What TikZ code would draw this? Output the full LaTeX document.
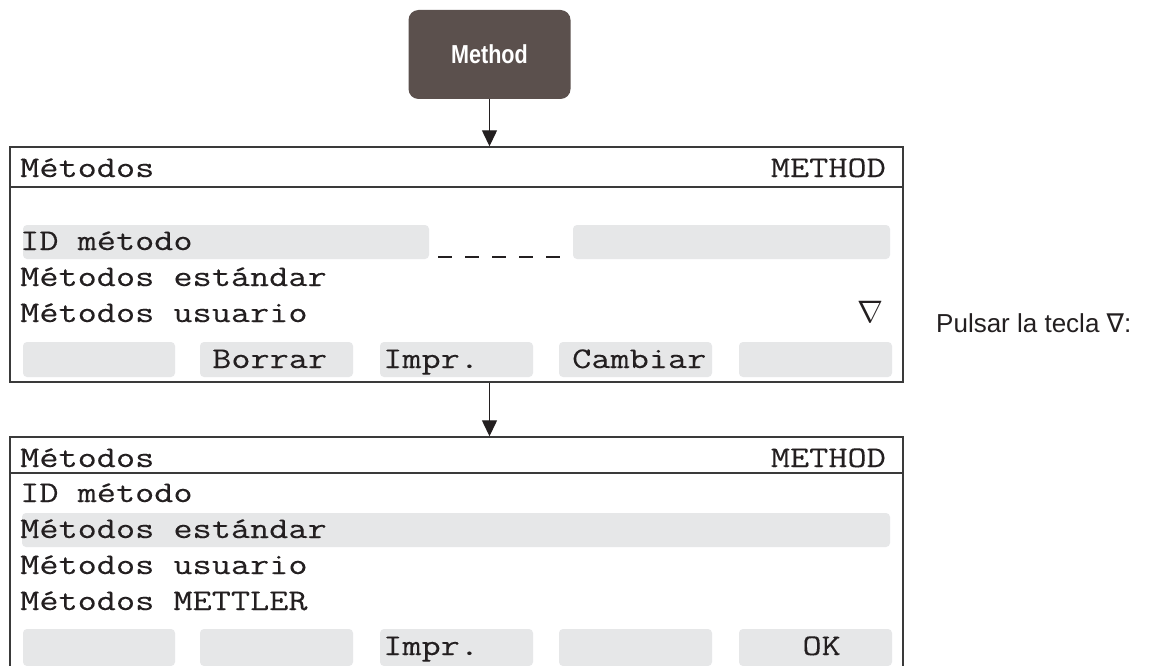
\documentclass[tikz,border=0pt]{standalone}
\usepackage{fontspec}
\usepackage{graphicx}
\setmainfont{Liberation Sans}
\setmonofont[FakeStretch=1.24,FakeBold=0.15]{Latin Modern Mono}
\newfontfamily\methodfont[FakeStretch=0.83]{Liberation Sans}
\newfontfamily\symfont{DejaVu Sans}
\usetikzlibrary{arrows.meta}
\definecolor{boxbrown}{HTML}{5B504D}
\definecolor{bargrey}{HTML}{E6E7E8}
\definecolor{framecol}{HTML}{3A3A3A}
\definecolor{ink}{HTML}{231F20}
\begin{document}
\begin{tikzpicture}[x=1pt,y=-1pt,
  scr/.style={draw=framecol,line width=1.4pt,fill=white,inner sep=0pt},
  bar/.style={fill=bargrey,rounded corners=4pt},
  lcd/.style={inner sep=0pt,text=ink,font=\ttfamily\fontsize{30}{30}\selectfont},
  arr/.style={draw=ink,line width=1.3pt,-{Triangle[width=15pt,length=16pt]}},
  keybox/.style={fill=boxbrown,rounded corners=10pt,minimum width=162pt,minimum height=89pt,
    text=white,font=\methodfont\bfseries\fontsize{26}{26}\selectfont,inner sep=0pt}
]
\useasboundingbox (0,0) rectangle (1151,666);

% key
\node[keybox] (method) at (489.5,54.5) {Method};

% screen 1
\node[scr,minimum width=893pt,minimum height=235pt] (scr1) at (456.5,264.5) {};
\draw[framecol,line width=1.2pt] (scr1.west |- 0,187) -- (scr1.east |- 0,187);
\fill[bar] (23,225) rectangle (429,259);
\fill[bar] (573,225) rectangle (890,259);
\foreach \a/\b in {23/175,200/353,380/533,559/712,739/892}
  \fill[bar] (\a,342) rectangle (\b,377);
\foreach \i in {0,...,4}
  \draw[ink,line width=2pt] (438+27*\i,257) -- (452+27*\i,257);
\node[lcd,anchor=base west] (s1h) at (20,177) {Métodos};
\node[lcd,anchor=base east] (s1m) at (886,177) {METHOD};
\node[lcd,anchor=base west] (s1a) at (20,250) {ID método};
\node[lcd,anchor=base west] (s1b) at (20,286) {Métodos estándar};
\node[lcd,anchor=base west] (s1c) at (20,322) {Métodos usuario};
\node[inner sep=0pt,anchor=base east,text=ink,font=\fontsize{24.88}{24.88}\selectfont] (s1n) at (884,322) {\scalebox{1.25}{$\nabla$}};
\node[lcd,anchor=base west] (s1k2) at (212,368) {Borrar};
\node[lcd,anchor=base west] (s1k3) at (383,368) {Impr.};
\node[lcd,anchor=base west] (s1k4) at (572,368) {Cambiar};

% side note
\node[inner sep=0pt,anchor=base west,text=ink,font=\fontsize{26}{26}\selectfont] (note) at (936,332) {Pulsar la tecla {\symfont ∇}:};

% screen 2
\node[scr,minimum width=893pt,minimum height=231pt] (scr2) at (456.5,552.5) {};
\draw[framecol,line width=1.2pt] (scr2.west |- 0,473) -- (scr2.east |- 0,473);
\fill[bar] (22,513) rectangle (890,547);
\foreach \a/\b in {23/175,200/353,380/533,559/712,739/892}
  \fill[bar] (\a,629) rectangle (\b,666);
\node[lcd,anchor=base west] (s2h) at (20,467) {Métodos};
\node[lcd,anchor=base east] (s2m) at (886,467) {METHOD};
\node[lcd,anchor=base west] (s2a) at (20,502) {ID método};
\node[lcd,anchor=base west] (s2b) at (20,538) {Métodos estándar};
\node[lcd,anchor=base west] (s2c) at (20,574) {Métodos usuario};
\node[lcd,anchor=base west] (s2d) at (20,610) {Métodos METTLER};
\node[lcd,anchor=base west] (s2k3) at (383,655) {Impr.};
\node[lcd,anchor=base east] (s2k5) at (841,655) {OK};

% arrows
\draw[arr] (method.south) -- (method.south |- scr1.north);
\draw[arr] (method.south |- scr1.south) -- (method.south |- scr2.north);
\end{tikzpicture}
\end{document}
